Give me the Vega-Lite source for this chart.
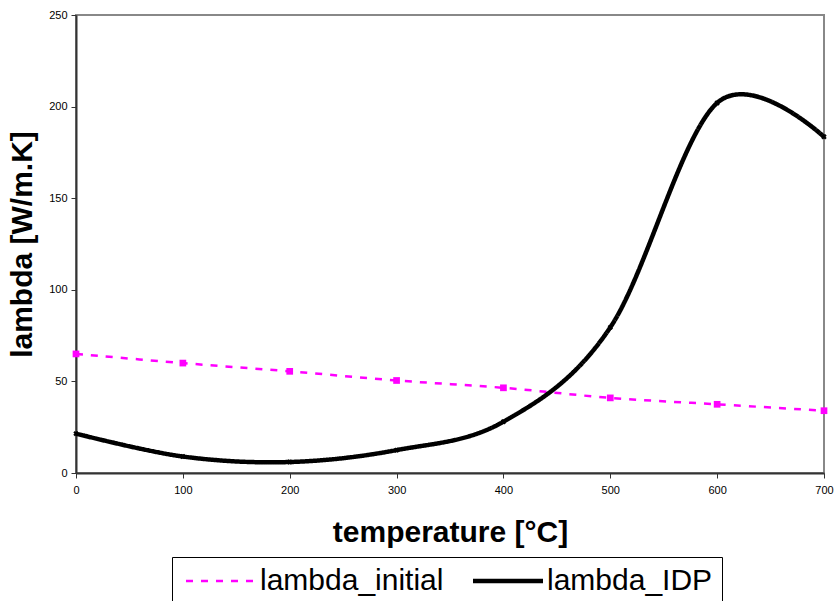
{
  "$schema": "https://vega.github.io/schema/vega-lite/v6.json",
  "autosize": "none",
  "width": 748,
  "height": 458,
  "padding": {"left": 76, "top": 15, "right": 10, "bottom": 128},
  "background": "white",
  "config": {
    "font": "Liberation Sans",
    "view": {"stroke": "#888888", "strokeWidth": 2},
    "axis": {"grid": false, "labelFlush": false, "domainColor": "#333333", "domainWidth": 2, "tickColor": "#333333", "tickSize": 5, "labelColor": "black", "labelFontSize": 11, "titleFontSize": 30, "titleFontWeight": "bold", "titleColor": "black"}
  },
  "data": {"values": [
    {"temperature": 0, "series": "lambda_initial", "lambda": 65},
    {"temperature": 100, "series": "lambda_initial", "lambda": 60},
    {"temperature": 200, "series": "lambda_initial", "lambda": 55.5},
    {"temperature": 300, "series": "lambda_initial", "lambda": 50.5},
    {"temperature": 400, "series": "lambda_initial", "lambda": 46.5},
    {"temperature": 500, "series": "lambda_initial", "lambda": 41},
    {"temperature": 600, "series": "lambda_initial", "lambda": 37.5},
    {"temperature": 700, "series": "lambda_initial", "lambda": 34},
    {"temperature": 0, "series": "lambda_IDP", "lambda": 21.5},
    {"temperature": 100, "series": "lambda_IDP", "lambda": 9},
    {"temperature": 200, "series": "lambda_IDP", "lambda": 6},
    {"temperature": 300, "series": "lambda_IDP", "lambda": 12.5},
    {"temperature": 400, "series": "lambda_IDP", "lambda": 28},
    {"temperature": 500, "series": "lambda_IDP", "lambda": 79.5},
    {"temperature": 600, "series": "lambda_IDP", "lambda": 202},
    {"temperature": 700, "series": "lambda_IDP", "lambda": 183.5}
  ]},
  "layer": [
    {
      "mark": {"type": "line", "interpolate": "cardinal"},
      "encoding": {
        "x": {"field": "temperature", "type": "quantitative", "scale": {"domain": [0, 700], "nice": false}, "axis": {"values": [0, 100, 200, 300, 400, 500, 600, 700], "title": "temperature [°C]", "titlePadding": 22, "labelPadding": 6}},
        "y": {"field": "lambda", "type": "quantitative", "scale": {"domain": [0, 250], "nice": false}, "axis": {"values": [0, 50, 100, 150, 200, 250], "title": "lambda [W/m.K]", "titlePadding": 11, "labelPadding": 4}},
        "color": {"field": "series", "type": "nominal", "scale": {"domain": ["lambda_initial", "lambda_IDP"], "range": ["#ff00ff", "#000000"]},
          "legend": {"title": null, "orient": "none", "legendX": 96, "legendY": 542, "direction": "horizontal", "symbolType": "M-1,0H6", "symbolSize": 400, "labelFontSize": 30, "labelOffset": 49, "labelLimit": 400, "labelColor": "black", "strokeColor": "#000000", "padding": 9, "columnPadding": 20, "symbolStrokeWidth": 3, "fillColor": "white"}},
        "strokeDash": {"field": "series", "type": "nominal", "scale": {"domain": ["lambda_initial", "lambda_IDP"], "range": [[7, 8], [1, 0]]}, "legend": null},
        "strokeWidth": {"field": "series", "type": "nominal", "scale": {"domain": ["lambda_initial", "lambda_IDP"], "range": [2.5, 4.5]}, "legend": null}
      }
    },
    {
      "transform": [{"filter": "datum.series == 'lambda_initial'"}],
      "mark": {"type": "point", "shape": "square", "filled": true, "size": 45, "color": "#ff00ff", "opacity": 1},
      "encoding": {
        "x": {"field": "temperature", "type": "quantitative"},
        "y": {"field": "lambda", "type": "quantitative"}
      }
    },
    {
      "transform": [{"filter": "datum.series == 'lambda_IDP'"}],
      "mark": {"type": "point", "shape": "cross", "angle": 45, "filled": true, "size": 30, "color": "#000000", "opacity": 1},
      "encoding": {
        "x": {"field": "temperature", "type": "quantitative"},
        "y": {"field": "lambda", "type": "quantitative"}
      }
    }
  ]
}
